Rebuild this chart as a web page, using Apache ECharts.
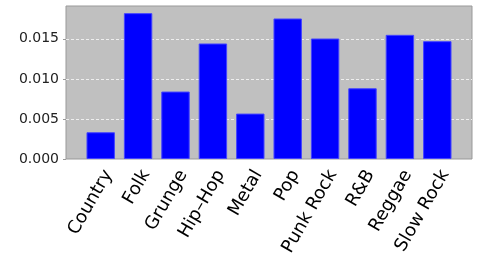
<!DOCTYPE html>
<html>
<head>
<meta charset="utf-8">
<script src="https://cdn.jsdelivr.net/npm/echarts@6/dist/echarts.min.js"></script>
<style>html,body{margin:0;padding:0;background:#fff}#c{width:480px;height:270px}</style>
</head>
<body>
<div id="c"></div>
<script>
const categories = ["Country","Folk","Grunge","Hip–Hop","Metal","Pop","Punk Rock","R&B","Reggae","Slow Rock"];
const values = [0.00334,0.01821,0.00842,0.01442,0.00567,0.01754,0.01504,0.00883,0.0155,0.01471];
const yTicks = [0, 0.005, 0.010, 0.015];
const yMax = 0.0191;

const chart = echarts.init(document.getElementById('c'), null, {renderer:'canvas'});
const font = 'DejaVu Sans';
chart.setOption({
  animation: false,
  backgroundColor: '#ffffff',
  grid: [
    {left: 66, top: 6, width: 406, height: 153, show: true, backgroundColor: '#c0c0c0', borderColor: '#999999', borderWidth: 1},
    {left: 82, top: 6, width: 374, height: 153}
  ],
  xAxis: [
    {gridIndex: 0, type: 'value', min: 0, max: 1, show: false},
    {gridIndex: 1, type: 'category', data: categories,
     axisLine: {show: false}, axisTick: {show: false},
     axisLabel: {interval: 0, rotate: 60, verticalAlign: 'top', margin: 8,
       fontFamily: font, fontSize: 18, color: '#000'}}
  ],
  yAxis: [
    {gridIndex: 0, type: 'value', min: 0, max: yMax, interval: 0.005,
     axisLine: {show: false},
     axisTick: {show: true, length: 3, lineStyle: {color: '#999999'}},
     axisLabel: {showMaxLabel: false, margin: 7, fontFamily: font, fontSize: 14, color: '#222',
       formatter: v => yTicks.some(t => Math.abs(t - v) < 1e-9) ? v.toFixed(3) : ''},
     splitLine: {show: true, showMinLine: false, showMaxLine: false, lineStyle: {color: '#eeeeee', type: [3, 2], width: 1}}},
    {gridIndex: 1, type: 'value', min: 0, max: yMax, show: false}
  ],
  series: [{
    type: 'bar', xAxisIndex: 1, yAxisIndex: 1, data: values, barWidth: '76%',
    itemStyle: {color: '#0000ff', borderColor: '#4444ff', borderWidth: 1}
  }]
});
</script>
</body>
</html>
